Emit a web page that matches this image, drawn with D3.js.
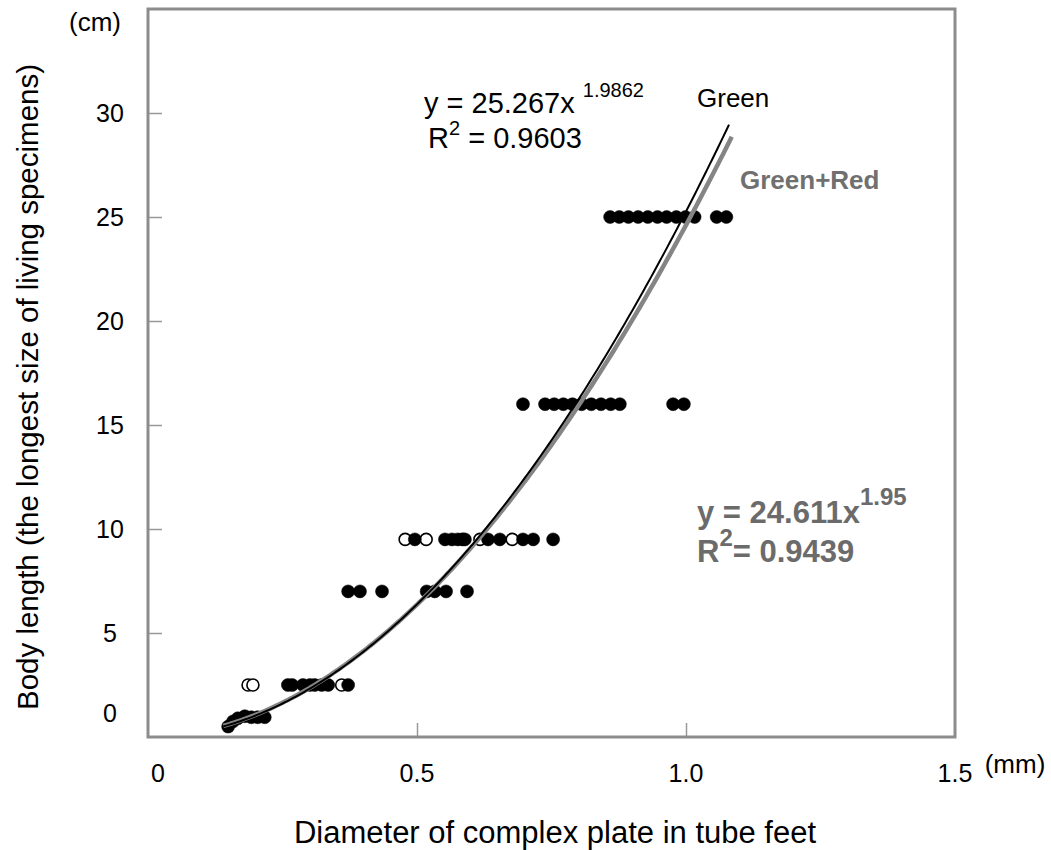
<!DOCTYPE html>
<html>
<head>
<meta charset="utf-8">
<script src="https://cdn.jsdelivr.net/npm/d3@7"></script>
<style>
  body { margin: 0; background: #fff; }
  text { font-family: "Liberation Sans", Arial, sans-serif; }
</style>
</head>
<body>
<svg id="chart" width="1051" height="850"></svg>
<script>
// body length rows (cm) and the plate diameters (mm) found at each
const row25 = [0.859, 0.876, 0.893, 0.911, 0.929, 0.947, 0.964, 0.982, 0.999, 1.016, 1.057, 1.075];
const row16 = [0.697, 0.738, 0.755, 0.772, 0.789, 0.806, 0.824, 0.842, 0.860, 0.877, 0.976, 0.996];
const row9Filled = [0.496, 0.552, 0.565, 0.576, 0.589, 0.632, 0.654, 0.697, 0.716, 0.753];
const row9Open = [0.478, 0.517, 0.585, 0.617, 0.677];
const row7 = [0.372, 0.394, 0.435, 0.518, 0.533, 0.554, 0.593];
const row2Filled = [0.260, 0.268, 0.288, 0.301, 0.310, 0.323, 0.335, 0.372];
const row2Open = [0.186, 0.195, 0.360];
const smallX = [0.149, 0.158, 0.167, 0.180, 0.192, 0.204, 0.217];
const smallY = [0.5, 0.75, 0.9, 1.0, 0.95, 0.95, 0.95];

const xTicks = [0, 0.5, 1.0, 1.5];
const xTickLabels = ["0", "0.5", "1.0", "1.5"];
const yTicks = [0, 5, 10, 15, 20, 25, 30];

// power fits
const fitGreen = { a: 25.267, b: 1.9862, from: 0.14, to: 1.08 };
const fitAll = { a: 24.611, b: 1.95, from: 0.14, to: 1.085 };

const svg = d3.select("#chart");
const plotL = 148, plotR = 955, plotT = 9, plotB = 737;

const x = d3.scaleLinear().domain([0, 1.5]).range([plotL, plotR]);
const y = d3.scaleLinear().domain([0, 35]).range([plotB, plotT]);

// ticks inside the frame
svg.append("g")
  .attr("transform", `translate(${plotL},0)`)
  .call(d3.axisRight(y).tickValues(yTicks.filter(d => d > 0)).tickSize(14).tickFormat(""))
  .call(g => g.select(".domain").remove())
  .call(g => g.selectAll("line").attr("stroke", "#999").attr("stroke-width", 1.5));

svg.append("g")
  .attr("transform", `translate(0,${plotB})`)
  .call(d3.axisTop(x).tickValues([0.5, 1.0]).tickSize(14).tickFormat(""))
  .call(g => g.select(".domain").remove())
  .call(g => g.selectAll("line").attr("stroke", "#999").attr("stroke-width", 1.5));

// frame
svg.append("rect")
  .attr("x", plotL).attr("y", plotT)
  .attr("width", plotR - plotL).attr("height", plotB - plotT)
  .attr("fill", "none").attr("stroke", "#8c8c8c").attr("stroke-width", 3);

// tick labels
svg.selectAll(".ylab").data(yTicks).join("text")
  .attr("x", 110)
  .attr("y", d => y(d) + (d === 0 ? -24 : 0))
  .attr("dy", "0.35em")
  .attr("text-anchor", "middle")
  .attr("font-size", 25)
  .text(d => d);

svg.selectAll(".xlab").data(xTicks).join("text")
  .attr("x", (d, i) => x(d) + (i === 0 ? 10 : 0))
  .attr("y", 773)
  .attr("dy", "0.35em")
  .attr("text-anchor", "middle")
  .attr("font-size", 25)
  .text((d, i) => xTickLabels[i]);

svg.append("text").attr("x", 1015).attr("y", 764).attr("dy", "0.35em")
  .attr("text-anchor", "middle").attr("font-size", 26).text("(mm)");
svg.append("text").attr("x", 95).attr("y", 22).attr("dy", "0.35em")
  .attr("text-anchor", "middle").attr("font-size", 26).text("(cm)");

svg.append("text").attr("x", 555).attr("y", 832).attr("dy", "0.35em")
  .attr("text-anchor", "middle").attr("font-size", 31)
  .text("Diameter of complex plate in tube feet");
svg.append("text")
  .attr("transform", "translate(28,387) rotate(-90)")
  .attr("dy", "0.35em")
  .attr("text-anchor", "middle").attr("font-size", 29.5)
  .text("Body length (the longest size of living specimens)");

// points
const points = [];
row25.forEach(v => points.push({ x: v, y: 25, open: false }));
row16.forEach(v => points.push({ x: v, y: 16, open: false }));
row9Open.forEach(v => points.push({ x: v, y: 9.5, open: true }));
row9Filled.forEach(v => points.push({ x: v, y: 9.5, open: false }));
row7.forEach(v => points.push({ x: v, y: 7, open: false }));
row2Open.forEach(v => points.push({ x: v, y: 2.5, open: true }));
row2Filled.forEach(v => points.push({ x: v, y: 2.5, open: false }));
smallX.forEach((v, i) => points.push({ x: v, y: smallY[i], open: false }));

svg.append("g").selectAll("circle").data(points).join("circle")
  .attr("cx", d => x(d.x))
  .attr("cy", d => y(d.y))
  .attr("r", d => d.open ? 6 : 6.5)
  .attr("fill", d => d.open ? "#fff" : "#000")
  .attr("stroke", "#000")
  .attr("stroke-width", d => d.open ? 1.6 : 0.5);

// fitted curves
function curve(f) {
  return d3.range(f.from, f.to + 0.0001, 0.005).map(v => [v, f.a * Math.pow(v, f.b)]);
}
const line = d3.line().x(d => x(d[0])).y(d => y(d[1])).curve(d3.curveMonotoneX);

svg.append("path").datum(curve(fitAll)).attr("d", line)
  .attr("fill", "none").attr("stroke", "#858585").attr("stroke-width", 4.5);
svg.append("path").datum(curve(fitGreen)).attr("d", line)
  .attr("fill", "none").attr("stroke", "#000").attr("stroke-width", 2);

// equation labels
const eq1 = svg.append("text").attr("x", 424).attr("y", 113).attr("font-size", 29);
eq1.append("tspan").text("y = 25.267x ");
eq1.append("tspan").attr("font-size", 20).attr("dy", -16).text("1.9862");

const r1 = svg.append("text").attr("x", 428).attr("y", 148).attr("font-size", 29);
r1.append("tspan").text("R");
r1.append("tspan").attr("font-size", 20).attr("dy", -13).text("2");
r1.append("tspan").attr("dy", 13).text(" = 0.9603");

svg.append("text").attr("x", 697).attr("y", 107).attr("font-size", 26).text("Green");
svg.append("text").attr("x", 740).attr("y", 189).attr("font-size", 26)
  .attr("font-weight", "bold").attr("fill", "#707070").text("Green+Red");

const eq2 = svg.append("text").attr("x", 697).attr("y", 523).attr("font-size", 31)
  .attr("font-weight", "bold").attr("fill", "#6b6b6b");
eq2.append("tspan").text("y = 24.611x");
eq2.append("tspan").attr("font-size", 24).attr("dy", -18).text("1.95");

const r2 = svg.append("text").attr("x", 697).attr("y", 562).attr("font-size", 31)
  .attr("font-weight", "bold").attr("fill", "#6b6b6b");
r2.append("tspan").text("R");
r2.append("tspan").attr("font-size", 24).attr("dy", -16).text("2");
r2.append("tspan").attr("dy", 16).text("= 0.9439");
</script>
</body>
</html>
